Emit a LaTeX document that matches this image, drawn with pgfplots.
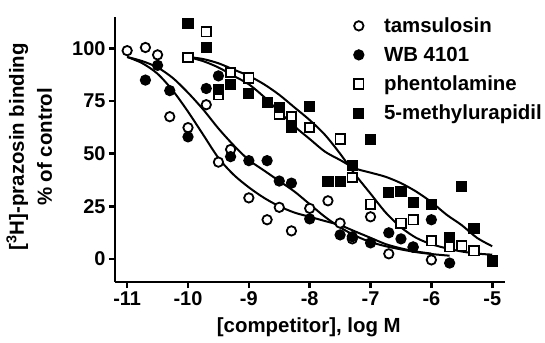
\documentclass[border=0pt]{standalone}
\usepackage{pgfplots}
\pgfplotsset{compat=1.18}
\usepackage{fontspec}
\setmainfont{Liberation Sans}
\newcommand{\bigf}{\bfseries\fontsize{20.5}{28}\selectfont}
\begin{document}
\begin{tikzpicture}
\begin{axis}[name=ax, scale only axis, width=390bp, height=265bp,
  xmin=-11.2, xmax=-4.79, ymin=-11, ymax=115,
  axis x line=bottom, axis y line=left,
  axis line style={line width=2.6bp, -},
  every tick/.style={line width=2.6bp, black},
  tick align=outside, major tick length=6bp,
  xtick={-11,-10,-9,-8,-7,-6,-5},
  xticklabels={-11,-10,-9,-8,-7,-6,-5},
  ytick={0,25,50,75,100},
  yticklabels={0,25,50,75,100},
  ticklabel style={font=\bfseries\fontsize{20}{21}\selectfont},
  xlabel={[competitor], log M},
  ylabel={[\textsuperscript{3}H]-prazosin binding\\\% of control},
  xlabel style={font=\bigf, at={(rel axis cs:0.497,-0.17)}, anchor=center},
  ylabel style={font=\bigf, align=center, at={(rel axis cs:-0.22,0.51)}, anchor=center},
  clip=false,
  legend style={at={(rel axis cs:0.605,1.015)}, anchor=north west, draw=none, fill=none,
    font=\bfseries\fontsize{20.5}{22}\selectfont, row sep=8bp, column sep=18bp, nodes={inner sep=2.5bp}},
  legend cell align=left,
]
\addplot[only marks, mark=*, mark size=4.7bp, mark options={fill=white, line width=1.8bp}] coordinates {
(-11,99) (-10.7,100.5) (-10.5,97) (-10.3,67.6) (-10,62.4) (-9.7,73.3) (-9.5,46) (-9.3,52)
(-9,29) (-8.7,18.6) (-8.5,24.5) (-8.3,13.3) (-8,24) (-7.7,27.6) (-7.5,17) (-7.3,9.5)
(-7,20) (-6.7,2.4) (-6.3,5.7) (-6,-0.5)};
\addlegendentry{tamsulosin}
\addplot[only marks, mark=*, mark size=4.7bp, mark options={fill=black, line width=1.8bp}] coordinates {
(-10.7,85) (-10.5,92) (-10.3,80) (-10,58) (-9.7,81) (-9.5,87) (-9.3,48.6) (-9,46.7)
(-8.7,46.7) (-8.5,37) (-8.3,36) (-8,19) (-7.5,11.4) (-7.3,10.5) (-7,7.6) (-6.7,12.4)
(-6.5,9.5) (-6.3,5.5) (-6,18.6) (-5.7,-2)};
\addlegendentry{WB 4101}
\addplot[only marks, mark=square*, mark size=4.7bp, mark options={fill=white, line width=1.8bp}] coordinates {
(-10,95.7) (-9.7,108) (-9.5,78) (-9.3,88.6) (-9,86) (-8.5,68.6) (-8.3,67.6) (-8,62.4)
(-7.5,57) (-7.3,38.6) (-7,26) (-6.5,17) (-6.3,18.6) (-6,8.6) (-5.7,5.7) (-5.5,6.2)
(-5.3,3.8) (-5,-1)};
\addlegendentry{phentolamine}
\addplot[only marks, mark=square*, mark size=4.7bp, mark options={fill=black, line width=1.8bp}] coordinates {
(-10,112) (-9.7,100.5) (-9.5,80.5) (-9.3,83) (-9,78.6) (-8.7,74.5) (-8.5,72) (-8.3,62.4)
(-8,72.4) (-7.7,36.7) (-7.5,36.7) (-7.3,44.3) (-7,56.7) (-6.7,31.4) (-6.5,32) (-6.3,26.7)
(-6,26) (-5.7,10) (-5.5,34.3) (-5.3,14.3) (-5,-1)};
\addlegendentry{5-methylurapidil}
% fitted curves
\addplot[forget plot, smooth, line width=2bp] coordinates {
(-11,96) (-10.75,93) (-10.5,88) (-10.25,80) (-10,70) (-9.75,59) (-9.5,48) (-9.25,40)
(-9,34) (-8.75,29) (-8.5,25) (-8.25,22) (-8,20) (-7.75,18) (-7.5,16) (-7.25,13)
(-7,10) (-6.75,7) (-6.5,5) (-6.25,3.5) (-6,2.5)};
\addplot[forget plot, smooth, line width=2bp] coordinates {
(-11,96) (-10.75,94) (-10.5,91) (-10.25,86) (-10,79) (-9.75,71) (-9.5,62) (-9.25,54)
(-9,47) (-8.75,42) (-8.5,37) (-8.25,32) (-8,26) (-7.75,20) (-7.5,15) (-7.25,11)
(-7,8) (-6.75,6) (-6.5,4.5) (-6.25,3.2) (-6,2.3) (-5.7,1.5)};
\addplot[forget plot, smooth, line width=2bp] coordinates {
(-10,96) (-9.75,95) (-9.5,93) (-9.25,90) (-9,87) (-8.75,83) (-8.5,78) (-8.25,72)
(-8,66) (-7.75,59) (-7.5,50) (-7.25,40) (-7,31) (-6.75,22) (-6.5,15) (-6.25,10)
(-6,7) (-5.75,5) (-5.5,3.5) (-5.25,2.5) (-5,2)};
\addplot[forget plot, smooth, line width=2bp] coordinates {
(-10,96) (-9.75,94) (-9.5,91) (-9.25,87) (-9,83) (-8.75,77) (-8.5,70) (-8.25,63)
(-8,57) (-7.75,51) (-7.5,47) (-7.25,43) (-7,41) (-6.75,39) (-6.5,36) (-6.25,32)
(-6,27) (-5.75,21) (-5.5,16) (-5.25,10) (-5,6)};
\end{axis}
\pgfresetboundingbox
\path ([shift={(-115bp,-61bp)}]ax.south west) rectangle ([shift={(430bp,282bp)}]ax.south west);
\end{tikzpicture}
\end{document}
